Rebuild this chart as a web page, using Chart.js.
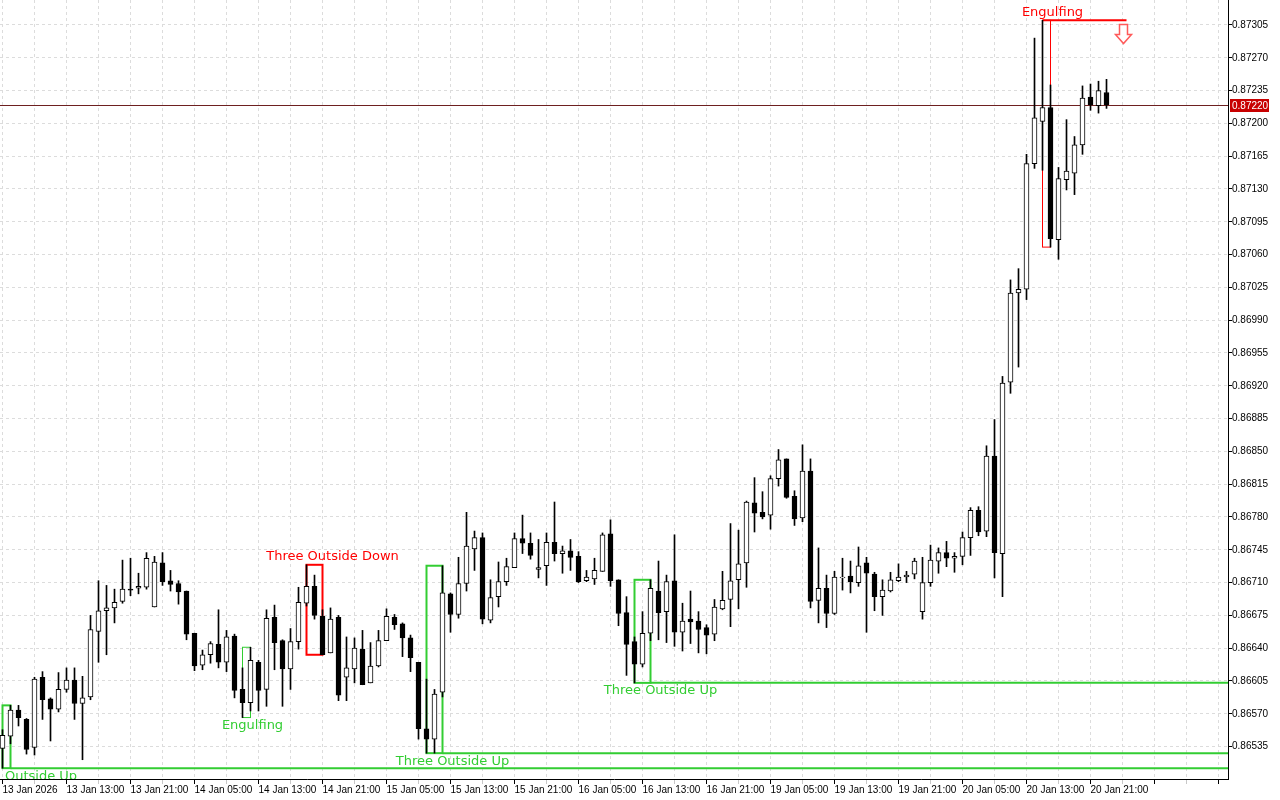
<!DOCTYPE html>
<html lang="en">
<head>
<meta charset="UTF-8">
<title>H1 candles with patterns</title>
<script src="https://cdn.jsdelivr.net/npm/chart.js"></script>
<style>
  html, body { margin: 0; padding: 0; background: #fff; }
  #wrap { width: 1280px; height: 800px; }
</style>
</head>
<body>
<div id="wrap"><canvas id="grafico"></canvas></div>
<script>
// hourly candles, index 0 = 13 Jan 05:00
const openPrices = [
  0.86533, 0.86546, 0.86574, 0.86564, 0.86534, 0.86609, 0.86586, 0.86575, 0.86596, 0.86606,
  0.86581, 0.86588, 0.86658, 0.86680, 0.86683, 0.86690, 0.86703, 0.86704, 0.86705, 0.86684,
  0.86731, 0.86712, 0.86709, 0.86701, 0.86656, 0.86622, 0.86633, 0.86644, 0.86625, 0.86653,
  0.86596, 0.86582, 0.86625, 0.86596, 0.86673, 0.86648, 0.86618, 0.86647, 0.86688, 0.86706,
  0.86674, 0.86635, 0.86673, 0.86609, 0.86618, 0.86639, 0.86603, 0.86621, 0.86648, 0.86673,
  0.86666, 0.86651, 0.86625, 0.86554, 0.86543, 0.86593, 0.86698, 0.86676, 0.86709, 0.86746,
  0.86758, 0.86670, 0.86695, 0.86711, 0.86726, 0.86757, 0.86752, 0.86724, 0.86728, 0.86753,
  0.86741, 0.86744, 0.86738, 0.86712, 0.86714, 0.86722, 0.86762, 0.86713, 0.86678, 0.86647,
  0.86623, 0.86656, 0.86701, 0.86679, 0.86712, 0.86657, 0.86671, 0.86669, 0.86662, 0.86655,
  0.86682, 0.86692, 0.86713, 0.86731, 0.86795, 0.86785, 0.86782, 0.86821, 0.86842, 0.86802,
  0.86779, 0.86829, 0.86691, 0.86704, 0.86677, 0.86715, 0.86717, 0.86710, 0.86731, 0.86719,
  0.86695, 0.86701, 0.86712, 0.86716, 0.86719, 0.86679, 0.86710, 0.86733, 0.86742, 0.86736,
  0.86738, 0.86758, 0.86787, 0.86765, 0.86845, 0.86741, 0.86924, 0.87019, 0.87023, 0.87157,
  0.87202, 0.87217, 0.87076, 0.87140, 0.87147, 0.87177, 0.87228, 0.87219, 0.87233
];
const highPrices = [
  0.86553, 0.86579, 0.86579, 0.86565, 0.86609, 0.86615, 0.86587, 0.86614, 0.86619, 0.86619,
  0.86610, 0.86675, 0.86712, 0.86707, 0.86703, 0.86734, 0.86736, 0.86720, 0.86742, 0.86738,
  0.86742, 0.86723, 0.86712, 0.86701, 0.86656, 0.86638, 0.86647, 0.86681, 0.86659, 0.86655,
  0.86619, 0.86641, 0.86627, 0.86681, 0.86686, 0.86649, 0.86661, 0.86705, 0.86729, 0.86718,
  0.86681, 0.86683, 0.86675, 0.86652, 0.86651, 0.86659, 0.86646, 0.86659, 0.86682, 0.86676,
  0.86667, 0.86654, 0.86625, 0.86607, 0.86596, 0.86728, 0.86699, 0.86737, 0.86785, 0.86765,
  0.86763, 0.86713, 0.86732, 0.86736, 0.86763, 0.86782, 0.86763, 0.86756, 0.86763, 0.86796,
  0.86749, 0.86756, 0.86743, 0.86723, 0.86736, 0.86763, 0.86777, 0.86713, 0.86695, 0.86652,
  0.86679, 0.86713, 0.86733, 0.86718, 0.86761, 0.86688, 0.86701, 0.86679, 0.86665, 0.86692,
  0.86722, 0.86773, 0.86766, 0.86797, 0.86822, 0.86807, 0.86824, 0.86852, 0.86842, 0.86808,
  0.86857, 0.86842, 0.86747, 0.86718, 0.86722, 0.86736, 0.86733, 0.86748, 0.86737, 0.86721,
  0.86713, 0.86721, 0.86730, 0.86722, 0.86736, 0.86737, 0.86750, 0.86747, 0.86754, 0.86742,
  0.86764, 0.86790, 0.86791, 0.86856, 0.86884, 0.86930, 0.87033, 0.87045, 0.87167, 0.87291,
  0.87310, 0.87241, 0.87153, 0.87204, 0.87186, 0.87240, 0.87242, 0.87245, 0.87247
];
const lowPrices = [
  0.86512, 0.86538, 0.86557, 0.86527, 0.86526, 0.86564, 0.86541, 0.86572, 0.86593, 0.86564,
  0.86521, 0.86585, 0.86625, 0.86633, 0.86667, 0.86688, 0.86696, 0.86698, 0.86703, 0.86684,
  0.86707, 0.86701, 0.86687, 0.86649, 0.86616, 0.86617, 0.86624, 0.86619, 0.86615, 0.86587,
  0.86566, 0.86573, 0.86573, 0.86578, 0.86617, 0.86578, 0.86596, 0.86639, 0.86685, 0.86671,
  0.86633, 0.86635, 0.86584, 0.86584, 0.86603, 0.86601, 0.86603, 0.86620, 0.86648, 0.86660,
  0.86631, 0.86615, 0.86543, 0.86528, 0.86528, 0.86588, 0.86657, 0.86672, 0.86701, 0.86723,
  0.86666, 0.86667, 0.86684, 0.86707, 0.86726, 0.86741, 0.86735, 0.86715, 0.86707, 0.86733,
  0.86720, 0.86723, 0.86710, 0.86711, 0.86708, 0.86722, 0.86706, 0.86664, 0.86611, 0.86603,
  0.86620, 0.86648, 0.86649, 0.86646, 0.86642, 0.86637, 0.86645, 0.86635, 0.86634, 0.86648,
  0.86681, 0.86663, 0.86682, 0.86705, 0.86764, 0.86778, 0.86767, 0.86813, 0.86800, 0.86771,
  0.86775, 0.86683, 0.86667, 0.86662, 0.86676, 0.86702, 0.86699, 0.86706, 0.86657, 0.86680,
  0.86675, 0.86700, 0.86711, 0.86710, 0.86714, 0.86671, 0.86706, 0.86720, 0.86727, 0.86721,
  0.86729, 0.86739, 0.86760, 0.86759, 0.86715, 0.86695, 0.86912, 0.86940, 0.87012, 0.87152,
  0.87150, 0.87068, 0.87055, 0.87129, 0.87124, 0.87167, 0.87214, 0.87211, 0.87216
];
const closePrices = [
  0.86547, 0.86574, 0.86566, 0.86532, 0.86607, 0.86585, 0.86575, 0.86596, 0.86606, 0.86581,
  0.86587, 0.86660, 0.86680, 0.86683, 0.86689, 0.86703, 0.86702, 0.86706, 0.86736, 0.86732,
  0.86711, 0.86708, 0.86700, 0.86655, 0.86621, 0.86633, 0.86645, 0.86625, 0.86652, 0.86595,
  0.86582, 0.86627, 0.86595, 0.86672, 0.86646, 0.86618, 0.86647, 0.86689, 0.86706, 0.86675,
  0.86633, 0.86671, 0.86590, 0.86619, 0.86640, 0.86601, 0.86621, 0.86648, 0.86674, 0.86665,
  0.86651, 0.86630, 0.86554, 0.86543, 0.86591, 0.86699, 0.86676, 0.86709, 0.86749, 0.86758,
  0.86671, 0.86694, 0.86711, 0.86727, 0.86757, 0.86752, 0.86739, 0.86726, 0.86753, 0.86741,
  0.86744, 0.86737, 0.86711, 0.86716, 0.86723, 0.86761, 0.86712, 0.86677, 0.86644, 0.86623,
  0.86656, 0.86704, 0.86678, 0.86711, 0.86657, 0.86669, 0.86668, 0.86660, 0.86654, 0.86684,
  0.86691, 0.86712, 0.86730, 0.86796, 0.86784, 0.86780, 0.86821, 0.86841, 0.86801, 0.86778,
  0.86829, 0.86690, 0.86704, 0.86677, 0.86716, 0.86716, 0.86711, 0.86728, 0.86720, 0.86695,
  0.86702, 0.86713, 0.86716, 0.86718, 0.86733, 0.86710, 0.86734, 0.86742, 0.86736, 0.86738,
  0.86758, 0.86787, 0.86764, 0.86845, 0.86742, 0.86923, 0.87019, 0.87023, 0.87157, 0.87206,
  0.87217, 0.87077, 0.87141, 0.87149, 0.87177, 0.87227, 0.87220, 0.87235, 0.87220
];

// time axis labels, one every 8 candles
const timeLabels = [
  '13 Jan 2026', '13 Jan 13:00', '13 Jan 21:00', '14 Jan 05:00', '14 Jan 13:00', '14 Jan 21:00',
  '15 Jan 05:00', '15 Jan 13:00', '15 Jan 21:00', '16 Jan 05:00', '16 Jan 13:00', '16 Jan 21:00',
  '19 Jan 05:00', '19 Jan 13:00', '19 Jan 21:00', '20 Jan 05:00', '20 Jan 13:00', '20 Jan 21:00'
];

// price axis
const priceTicks = [
  0.86535, 0.86570, 0.86605, 0.86640, 0.86675, 0.86710, 0.86745, 0.86780, 0.86815, 0.86850,
  0.86885, 0.86920, 0.86955, 0.86990, 0.87025, 0.87060, 0.87095, 0.87130, 0.87165, 0.87200,
  0.87235, 0.87270, 0.87305
];
const lastPrice = 0.87220;

// detected patterns: first/last candle and box range
const patternNames = ['Outside Up', 'Engulfing', 'Three Outside Down', 'Three Outside Up', 'Three Outside Up', 'Engulfing'];
const patternFirst = [0, 30, 38, 53, 79, 130];
const patternLast = [1, 31, 40, 55, 81, 131];
const patternHigh = [0.86579, 0.86641, 0.86729, 0.86728, 0.86713, 0.87310];
const patternLow = [0.86512, 0.86566, 0.86633, 0.86528, 0.86603, 0.87068];
const patternBullish = [true, true, false, true, true, false];
// candle where the pattern level stops (null = no level, Infinity = still open)
const patternLevelEnd = [Infinity, null, null, Infinity, Infinity, 140.5];

// sell signal arrow
const signalIndex = 140;
const signalPrice = 0.87310;

const GREEN = '#32cd32';
const RED = '#ff0000';
const AXIS_FONT = "'Liberation Sans', sans-serif";

// 8 px per candle, chart area 0..1228 x 0..779
const pxPerCandle = 8;
const xMin = -2.5 / pxPerCandle;
const xMax = xMin + 1228 / pxPerCandle;
const pricePerPx = 0.00035 / 32.8;
const yMax = 0.87305 + 25 * pricePerPx;
const yMin = yMax - 779 * pricePerPx;

const idx = openPrices.map((_, i) => i);
const xTickValues = [];
for (let v = 0; v <= xMax; v += 4) xTickValues.push(v);

const patternPlugin = {
  id: 'patterns',
  beforeDatasetsDraw(chart) {
    const { ctx, chartArea: a, scales: { x, y } } = chart;
    ctx.save();
    ctx.beginPath();
    ctx.rect(a.left, a.top, a.right - a.left, a.bottom - a.top);
    ctx.clip();

    // bid line
    const py = Math.round(y.getPixelForValue(lastPrice)) + 0.5;
    ctx.strokeStyle = '#6e2020';
    ctx.lineWidth = 1;
    ctx.beginPath();
    ctx.moveTo(a.left, py);
    ctx.lineTo(a.right, py);
    ctx.stroke();

    patternNames.forEach((name, i) => {
      const col = patternBullish[i] ? GREEN : RED;
      const x0 = x.getPixelForValue(patternFirst[i]);
      const x1 = x.getPixelForValue(patternLast[i]);
      const yt = y.getPixelForValue(patternHigh[i]);
      const yb = y.getPixelForValue(patternLow[i]);
      ctx.strokeStyle = col;
      ctx.lineWidth = name === 'Engulfing' ? 1 : 2;
      ctx.strokeRect(x0, yt, x1 - x0, yb - yt);

      const end = patternLevelEnd[i];
      if (end !== null) {
        const xe = end === Infinity ? a.right : x.getPixelForValue(end);
        const ly = patternBullish[i] ? yb : yt;
        ctx.lineWidth = 2;
        ctx.beginPath();
        ctx.moveTo(patternBullish[i] ? x1 : x0, ly);
        ctx.lineTo(xe, ly);
        ctx.stroke();
      }
    });
    ctx.restore();
  },
  afterDatasetsDraw(chart) {
    const { ctx, chartArea: a, scales: { x, y } } = chart;
    ctx.save();
    ctx.beginPath();
    ctx.rect(a.left, a.top, a.right - a.left, a.bottom - a.top);
    ctx.clip();

    ctx.font = "13px 'DejaVu Sans', sans-serif";
    ctx.textBaseline = 'middle';
    ctx.textAlign = 'left';
    patternNames.forEach((name, i) => {
      const three = patternLast[i] - patternFirst[i] > 1;
      const w = ctx.measureText(name).width;
      const cx = x.getPixelForValue(patternLast[i]) + (three ? 10 : 2);
      const left = Math.max(cx - w / 2, 5);
      const ty = patternBullish[i]
        ? y.getPixelForValue(patternLow[i]) + 8
        : y.getPixelForValue(patternHigh[i]) - 8;
      ctx.fillStyle = patternBullish[i] ? GREEN : RED;
      ctx.fillText(name, left, ty);
    });

    // hollow down arrow
    const ax = Math.round(x.getPixelForValue(signalIndex)) + 0.5;
    const ay = Math.round(y.getPixelForValue(signalPrice)) + 4.5;
    ctx.beginPath();
    ctx.moveTo(ax - 4, ay);
    ctx.lineTo(ax + 4, ay);
    ctx.lineTo(ax + 4, ay + 10);
    ctx.lineTo(ax + 8, ay + 10);
    ctx.lineTo(ax, ay + 19);
    ctx.lineTo(ax - 8, ay + 10);
    ctx.lineTo(ax - 4, ay + 10);
    ctx.closePath();
    ctx.fillStyle = '#fff';
    ctx.fill();
    ctx.strokeStyle = '#ff5a5a';
    ctx.lineWidth = 1.5;
    ctx.stroke();
    ctx.restore();
  },
  afterDraw(chart) {
    const { ctx, chartArea: a, scales: { y } } = chart;
    ctx.save();
    // current price tag on the axis
    const py = Math.round(y.getPixelForValue(lastPrice));
    ctx.fillStyle = '#c80000';
    ctx.fillRect(a.right + 2, py - 6, 39, 13);
    ctx.fillStyle = '#fff';
    ctx.font = '10px ' + AXIS_FONT;
    ctx.textBaseline = 'middle';
    ctx.textAlign = 'left';
    ctx.fillText(lastPrice.toFixed(5), a.right + 4, py + 1);
    ctx.restore();
  }
};

new Chart(document.getElementById('grafico'), {
  type: 'bar',
  data: {
    datasets: [
      {
        label: 'body',
        data: idx.map(i => ({ x: i, y: [openPrices[i], closePrices[i]] })),
        backgroundColor: idx.map(i => closePrices[i] >= openPrices[i] ? '#ffffff' : '#000000'),
        borderColor: '#000000',
        borderWidth: 1,
        borderSkipped: false,
        barThickness: 5,
        grouped: false,
        order: 0
      },
      {
        label: 'wick',
        data: idx.map(i => ({ x: i, y: [lowPrices[i], highPrices[i]] })),
        backgroundColor: '#000000',
        borderWidth: 0,
        barThickness: 1,
        grouped: false,
        order: 1
      }
    ]
  },
  options: {
    responsive: true,
    maintainAspectRatio: false,
    devicePixelRatio: 1,
    animation: false,
    events: [],
    layout: { padding: 0 },
    plugins: { legend: { display: false }, tooltip: { enabled: false } },
    scales: {
      x: {
        type: 'linear',
        position: 'bottom',
        min: xMin,
        max: xMax,
        offset: false,
        afterBuildTicks: s => { s.ticks = xTickValues.map(v => ({ value: v })); },
        afterFit: s => { s.height = 21; s.paddingLeft = 0; s.paddingRight = 0; },
        grid: {
          offset: false,
          color: '#dcdcdc',
          tickLength: 5,
          tickColor: c => (c.tick && c.tick.value % 8 === 0) ? '#000000' : '#c8c8c8'
        },
        border: { display: true, color: '#000000', width: 1, dash: [3, 3] },
        ticks: {
          autoSkip: false,
          maxRotation: 0,
          align: 'start',
          padding: 0,
          color: '#000000',
          font: { family: AXIS_FONT, size: 10 },
          callback: v => v % 8 === 0 ? (timeLabels[v / 8] || '') : ''
        }
      },
      y: {
        type: 'linear',
        position: 'right',
        min: yMin,
        max: yMax,
        beginAtZero: false,
        afterBuildTicks: s => { s.ticks = priceTicks.map(v => ({ value: v })); },
        afterFit: s => { s.width = 52; s.paddingTop = 0; s.paddingBottom = 0; },
        grid: { color: '#dcdcdc', tickLength: 4, tickColor: '#000000' },
        border: { display: true, color: '#000000', width: 1, dash: [3, 3] },
        ticks: {
          padding: 0,
          color: '#000000',
          font: { family: AXIS_FONT, size: 10 },
          callback: v => v.toFixed(5)
        }
      }
    }
  },
  plugins: [patternPlugin]
});
</script>
</body>
</html>
